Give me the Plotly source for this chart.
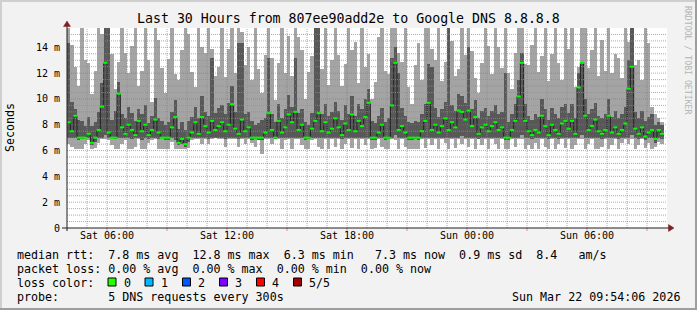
import numpy as np
import plotly.graph_objects as go

# ---------------- data (milliseconds, 10-minute steps starting Sat 04:00) ----------------
start_hour = 4.0
step_hours = 1.0 / 6.0

smoke_min = [
    6.5, 6.3, 6.1, 6.1, 6.1, 6.5, 6.8, 6.1, 6.2, 6.6,
    6.9, 6.9, 6.8, 6.4, 6.1, 6.1, 6.5, 6.8, 6.1, 6.1,
    6.3, 6.9, 6.1, 6.1, 6.6, 6.8, 6.9, 6.1, 6.1, 6.1,
    6.1, 6.7, 6.1, 6.1, 6.1, 6.1, 6.2, 6.8, 6.9, 6.9,
    6.5, 6.9, 6.5, 6.9, 7.0, 6.9, 6.9, 6.3, 6.9, 6.9,
    6.9, 6.3, 6.9, 6.5, 6.9, 6.6, 6.3, 6.8, 5.7, 6.9,
    6.9, 6.5, 6.9, 6.9, 6.1, 6.8, 6.9, 6.1, 6.9, 6.9,
    6.4, 6.1, 6.1, 6.8, 6.9, 6.3, 6.1, 6.9, 6.1, 6.9,
    6.3, 6.9, 6.1, 6.5, 6.9, 6.2, 6.9, 6.1, 6.9, 6.4,
    6.9, 6.1, 6.2, 6.9, 6.3, 6.1, 6.1, 6.9, 6.8, 6.1,
    6.9, 6.3, 6.1, 6.1, 6.1, 6.1, 6.9, 6.2, 6.9, 6.4,
    6.9, 6.1, 6.9, 6.6, 6.1, 6.9, 6.2, 6.9, 6.5, 6.9,
    6.3, 6.9, 6.1, 6.9, 6.4, 6.9, 6.1, 6.9, 6.5, 6.1,
    6.9, 6.1, 6.1, 6.9, 6.3, 6.9, 6.9, 6.1, 6.4, 6.1,
    6.6, 6.1, 6.9, 6.3, 6.1, 6.9, 6.1, 6.5, 6.9, 6.2,
    6.9, 6.1, 6.4, 6.9, 6.9, 6.1, 6.5, 6.9, 6.1, 6.1,
    6.3, 6.9, 6.1, 6.4, 6.9, 6.1, 6.6, 6.9, 6.5, 6.9,
    6.1, 6.4, 6.9, 6.2, 6.6, 6.1, 6.3, 6.7, 6.5,
]

smoke_max = [
    16, 14.2, 12.5, 11.0, 16, 13.0, 12.8, 10.4, 12.2, 16,
    15.0, 16, 16, 13.5, 10.8, 12.9, 16, 13.6, 12.0, 14.1,
    16, 11.0, 12.2, 16, 13.0, 9.8, 16, 14.6, 12.4, 10.5,
    13.1, 16, 11.9, 11.5, 13.8, 16, 15.0, 12.1, 10.9, 16,
    14.0, 13.6, 16, 13.9, 11.8, 12.5, 16, 11.7, 13.9, 16,
    12.0, 16, 15.2, 12.6, 14.0, 11.5, 16, 12.3, 10.5, 13.4,
    16, 13.2, 9.9, 12.8, 16, 12.0, 14.9, 11.8, 16, 14.8,
    13.8, 10.0, 12.1, 13.3, 16, 16, 12.3, 16, 11.1, 13.0,
    16, 13.4, 11.0, 12.7, 16, 13.8, 14.4, 11.2, 16, 12.5,
    13.5, 10.0, 11.3, 14.8, 16, 12.2, 11.9, 16, 16, 13.6,
    12.9, 16, 10.9, 9.6, 12.6, 14.3, 11.5, 16, 16, 13.9,
    13.0, 16, 11.4, 12.9, 16, 14.5, 11.8, 12.3, 16, 13.4,
    16, 13.7, 11.6, 10.5, 12.8, 16, 14.1, 11.9, 16, 14.0,
    12.4, 16, 12.0, 10.8, 13.6, 16, 16, 12.7, 12.6, 14.2,
    16, 12.1, 13.3, 16, 11.4, 13.5, 16, 12.8, 11.5, 16,
    13.9, 16, 10.9, 12.5, 16, 16, 12.4, 13.8, 16, 11.8,
    14.6, 12.2, 16, 12.0, 13.5, 13.2, 11.6, 16, 14.4, 16,
    12.6, 13.0, 11.5, 16, 14.3, 9.4, 8.8, 8.5, 8.2,
]

inner_low = [
    7.0, 7.0, 7.0, 6.8, 6.9, 7.0, 7.0, 6.4, 6.7, 7.0,
    7.0, 7.2, 7.0, 7.0, 6.9, 7.0, 7.0, 7.0, 7.0, 6.9,
    7.0, 7.0, 6.8, 7.0, 6.9, 7.0, 7.0, 6.9, 7.0, 6.8,
    6.8, 7.0, 6.8, 6.4, 6.5, 6.3, 6.7, 7.0, 7.0, 7.0,
    7.0, 7.0, 6.9, 7.0, 7.0, 7.0, 7.0, 6.9, 7.0, 7.0,
    7.0, 6.9, 7.0, 7.0, 7.0, 6.8, 6.9, 6.8, 6.8, 7.0,
    7.0, 7.0, 6.9, 7.0, 7.0, 7.0, 7.0, 7.0, 7.0, 7.0,
    7.0, 6.8, 6.9, 7.0, 7.0, 7.0, 7.0, 7.0, 7.0, 7.0,
    7.0, 7.0, 6.9, 7.0, 7.0, 7.0, 7.0, 7.0, 7.0, 7.0,
    7.0, 6.8, 6.8, 7.0, 7.0, 6.8, 6.9, 7.0, 7.2, 7.0,
    7.0, 7.0, 6.8, 6.8, 6.9, 6.8, 7.0, 7.0, 7.0, 7.0,
    7.0, 7.0, 7.0, 7.0, 7.0, 7.0, 7.0, 7.0, 7.1, 7.0,
    7.0, 7.0, 7.0, 6.9, 7.0, 7.0, 7.0, 7.0, 7.0, 7.0,
    7.0, 6.8, 6.8, 7.0, 7.0, 7.0, 7.2, 7.0, 7.0, 6.9,
    7.0, 7.0, 7.0, 7.0, 6.9, 7.0, 7.0, 6.9, 7.0, 7.0,
    7.0, 7.0, 7.0, 7.0, 7.2, 7.0, 7.0, 7.0, 7.0, 7.0,
    6.9, 7.0, 7.0, 7.0, 7.0, 6.9, 7.0, 7.0, 7.0, 7.2,
    7.0, 6.9, 7.0, 6.8, 7.0, 7.0, 6.6, 7.0, 6.9,
]

inner_high = [
    14.3, 9.8, 9.2, 8.4, 8.3, 7.9, 8.6, 7.9, 8.2, 9.0,
    11.2, 15.6, 15.6, 8.4, 9.1, 11.3, 8.8, 8.5, 9.4, 8.9,
    8.3, 9.2, 8.8, 9.5, 8.1, 8.7, 10.1, 8.5, 8.3, 8.0,
    8.2, 9.0, 9.9, 7.7, 8.2, 7.6, 8.3, 8.6, 9.4, 8.5,
    10.2, 9.0, 8.7, 13.2, 8.9, 9.3, 9.5, 8.8, 9.7, 11.0,
    9.0, 14.3, 14.3, 8.8, 9.0, 8.3, 8.0, 8.1, 8.4, 8.5,
    13.2, 8.8, 8.2, 9.6, 8.5, 9.2, 10.3, 9.4, 13.2, 8.9,
    9.2, 8.2, 8.0, 8.9, 15.6, 15.6, 8.8, 9.6, 8.7, 9.0,
    9.8, 9.1, 8.4, 9.5, 8.8, 10.2, 8.7, 9.6, 9.2, 10.0,
    10.8, 8.3, 8.1, 8.7, 9.3, 8.2, 8.5, 13.2, 14.0, 12.0,
    9.3, 8.7, 8.2, 8.1, 8.3, 8.2, 8.8, 9.6, 12.7, 12.5,
    9.3, 8.6, 9.2, 9.8, 15.6, 9.5, 9.1, 10.4, 10.2, 9.7,
    14.0, 9.2, 9.9, 8.5, 9.1, 9.3, 8.7, 9.1, 9.5, 8.8,
    9.0, 12.0, 8.2, 8.8, 9.6, 11.5, 13.6, 9.6, 8.7, 8.4,
    8.8, 8.6, 10.0, 9.2, 8.4, 9.3, 8.8, 8.5, 9.4, 9.6,
    8.9, 9.6, 8.5, 12.0, 12.9, 10.0, 8.8, 9.2, 9.7, 8.7,
    8.5, 8.8, 10.0, 8.6, 9.1, 8.5, 8.8, 9.4, 13.0, 15.6,
    9.0, 8.5, 9.1, 8.3, 8.6, 8.8, 8.0, 8.2, 8.0,
]

median = [
    8.2, 7.5, 8.7, 7.0, 7.0, 7.0, 7.3, 6.6, 7.0, 7.6,
    9.4, 12.8, 7.4, 7.0, 7.0, 10.4, 7.8, 7.3, 8.0, 7.6,
    7.2, 8.3, 7.5, 8.0, 7.2, 7.6, 8.4, 7.4, 7.0, 7.0,
    7.0, 7.8, 8.6, 6.6, 6.9, 6.5, 7.0, 7.4, 8.2, 7.3,
    8.6, 7.9, 7.4, 8.3, 7.6, 7.9, 8.2, 7.5, 8.0, 9.6,
    7.7, 7.3, 8.4, 7.5, 7.8, 7.0, 7.0, 7.0, 7.0, 7.4,
    8.9, 7.6, 7.0, 8.3, 7.4, 7.8, 8.8, 8.2, 9.0, 7.6,
    8.0, 7.0, 7.0, 7.7, 8.3, 8.9, 7.5, 8.2, 7.4, 7.7,
    8.5, 7.8, 7.2, 8.1, 7.6, 8.8, 7.5, 8.3, 7.9, 8.6,
    9.7, 7.0, 7.0, 7.4, 8.0, 7.0, 7.0, 9.5, 12.8, 7.6,
    7.9, 7.4, 7.0, 7.0, 7.0, 7.0, 7.5, 8.3, 9.7, 7.6,
    8.0, 7.4, 7.9, 8.5, 7.6, 8.2, 7.8, 9.1, 9.0, 8.4,
    9.1, 7.9, 8.6, 7.3, 7.8, 8.0, 7.5, 7.9, 8.2, 7.6,
    7.8, 7.0, 7.0, 7.6, 8.3, 10.2, 12.8, 8.3, 7.5, 7.2,
    7.6, 7.4, 8.7, 7.9, 7.2, 8.0, 7.6, 7.3, 8.1, 8.3,
    7.7, 8.3, 7.3, 10.9, 12.8, 8.7, 7.6, 7.9, 8.4, 7.5,
    7.3, 7.6, 8.7, 7.4, 7.8, 7.3, 7.6, 8.1, 10.8, 12.5,
    7.7, 7.3, 7.8, 7.1, 7.4, 7.6, 6.9, 7.6, 7.3,
]

x_tick_vals = [6, 12, 18, 24, 30]
x_tick_text = ["Sat 06:00", "Sat 12:00", "Sat 18:00", "Sun 00:00", "Sun 06:00"]
y_tick_vals = [0, 2, 4, 6, 8, 10, 12, 14]
y_tick_text = ["0", "2 m", "4 m", "6 m", "8 m", "10 m", "12 m", "14 m"]

title_text = "Last 30 Hours from 807ee90add2e to Google DNS 8.8.8.8"
legend_rtt = "median rtt:  7.8 ms avg  12.8 ms max  6.3 ms min   7.3 ms now  0.9 ms sd  8.4   am/s"
legend_loss = "packet loss: 0.00 % avg  0.00 % max  0.00 % min  0.00 % now"
legend_color_label = "loss color:"
loss_labels = ["0", "1", "2", "3", "4", "5/5"]
loss_colors = ["#26ff00", "#00b8ff", "#0059ff", "#7e00ff", "#ff0000", "#a10000"]
legend_probe = "probe:       5 DNS requests every 300s"
timestamp_text = "Sun Mar 22 09:54:06 2026"
watermark = "RRDTOOL / TOBI OETIKER"

# ---------------- geometry helpers ----------------
W, H = 697, 310
L, R, T, B = 67, 667, 28, 228   # plot area in pixels
X0, X1 = 4.0, 34.0
Y0, Y1 = 0.0, 15.5


def px(x):
    return (x - L) / (R - L)


def py(y):
    return (B - y) / (B - T)


n = len(median)
t_left = start_hour + np.arange(n) * step_hours
t_mid = t_left + step_hours / 2

smin = np.array(smoke_min)
smax = np.array(smoke_max)
ilo = np.array(inner_low)
ihi = np.array(inner_high)
med = np.array(median)

fig = go.Figure()
fig.add_trace(go.Bar(x=t_mid, y=smax - smin, base=smin, width=step_hours,
                     marker=dict(color="#a4a4a4", line=dict(width=0)),
                     hoverinfo="skip"))
fig.add_trace(go.Bar(x=t_mid, y=ihi - ilo, base=ilo, width=step_hours,
                     marker=dict(color="#585858", line=dict(width=0)),
                     hoverinfo="skip"))
fig.add_trace(go.Scatter(x=np.append(t_left, t_left[-1] + step_hours),
                         y=np.append(med, med[-1]), mode="lines",
                         line=dict(color="#202020", width=1, shape="hv"),
                         hoverinfo="skip"))
fig.add_trace(go.Scatter(x=t_mid, y=med, mode="markers",
                         marker=dict(symbol="line-ew", size=3, color="#00ff00",
                                     line=dict(color="#00ff00", width=2)),
                         hoverinfo="skip"))

mono = "DejaVu Sans Mono"
shapes = []
# grid above the data, rrdtool style
grid_c = "rgba(143,143,143,0.75)"
mgrid_c = "rgba(222,79,79,0.6)"
for k in range(1, 31):
    v = k * 0.5
    if abs(v % 2) < 1e-9:
        continue
    shapes.append(dict(type="line", xref="x domain", yref="y", x0=0, x1=1, y0=v, y1=v,
                       line=dict(color=grid_c, width=1, dash="1px,1px"), layer="above"))
for hr in range(5, 34):
    if hr % 3 == 0:
        continue
    shapes.append(dict(type="line", xref="x", yref="y domain", x0=hr, x1=hr, y0=0, y1=1,
                       line=dict(color=grid_c, width=1, dash="1px,1px"), layer="above"))
for v in y_tick_vals[1:]:
    shapes.append(dict(type="line", xref="x domain", yref="y", x0=0, x1=1, y0=v, y1=v,
                       line=dict(color=mgrid_c, width=1, dash="1px,1px"), layer="above"))
for hr in range(6, 34, 3):
    shapes.append(dict(type="line", xref="x", yref="y domain", x0=hr, x1=hr, y0=0, y1=1,
                       line=dict(color=mgrid_c, width=1, dash="1px,1px"), layer="above"))
    shapes.append(dict(type="line", xref="x", yref="paper", x0=hr, x1=hr, y0=py(228), y1=py(231),
                       line=dict(color=mgrid_c, width=1), layer="above"))

# axes lines and arrows
axis_c = "#1f1f1f"
shapes.append(dict(type="line", xref="paper", yref="paper", x0=px(62), x1=px(669), y0=py(228), y1=py(228),
                   line=dict(color=axis_c, width=1), layer="above"))
shapes.append(dict(type="line", xref="paper", yref="paper", x0=px(67), x1=px(67), y0=py(231), y1=py(26),
                   line=dict(color=axis_c, width=1), layer="above"))
arrow_c = "#801f1f"
shapes.append(dict(type="path", xref="paper", yref="paper",
                   path=f"M {px(67)} {py(21)} L {px(63.5)} {py(26.5)} L {px(70.5)} {py(26.5)} Z",
                   fillcolor=arrow_c, line=dict(color=arrow_c, width=0.5), layer="above"))
shapes.append(dict(type="path", xref="paper", yref="paper",
                   path=f"M {px(674)} {py(228)} L {px(668.5)} {py(224.5)} L {px(668.5)} {py(231.5)} Z",
                   fillcolor=arrow_c, line=dict(color=arrow_c, width=0.5), layer="above"))

# image border (bevel)
shapes.append(dict(type="rect", xref="paper", yref="paper", x0=px(0), x1=px(697), y0=py(0), y1=py(2),
                   fillcolor="#cfcfcf", line=dict(width=0), layer="above"))
shapes.append(dict(type="rect", xref="paper", yref="paper", x0=px(0), x1=px(2), y0=py(0), y1=py(310),
                   fillcolor="#cfcfcf", line=dict(width=0), layer="above"))
shapes.append(dict(type="rect", xref="paper", yref="paper", x0=px(0), x1=px(697), y0=py(308), y1=py(310),
                   fillcolor="#9e9e9e", line=dict(width=0), layer="above"))
shapes.append(dict(type="rect", xref="paper", yref="paper", x0=px(695), x1=px(697), y0=py(0), y1=py(310),
                   fillcolor="#9e9e9e", line=dict(width=0), layer="above"))

# loss colour boxes
box_x = [108, 145, 182.5, 219.5, 256.5, 293.5]
label_x = [123, 160, 197, 234, 271, 308]
for bx, c in zip(box_x, loss_colors):
    shapes.append(dict(type="rect", xref="paper", yref="paper", x0=px(bx), x1=px(bx + 8),
                       y0=py(278), y1=py(286), fillcolor=c, line=dict(color="#000000", width=1),
                       layer="above"))

ann = []
fs = 11.67


def text(x, y, s, size=fs, anchor="left", color="#000000", angle=0):
    ann.append(dict(xref="paper", yref="paper", x=px(x), y=py(y), text=s, showarrow=False,
                    xanchor=anchor, yanchor="middle", textangle=angle,
                    font=dict(family=mono, size=size, color=color), borderpad=0))


text(348, 18.5, title_text, size=13.25, anchor="center")
text(10, 128, "Seconds", size=11.67, anchor="center", angle=-90)
text(688, 60, watermark, size=8.2, anchor="center", color="#b4b4b4", angle=90)
text(16, 254.5, legend_rtt)
text(16, 268.5, legend_loss)
text(16, 282.5, legend_color_label)
for lx, lab in zip(label_x, loss_labels):
    text(lx, 282.5, lab)
text(16, 296.5, legend_probe)
text(681, 296.5, timestamp_text, anchor="right")

fig.update_layout(
    width=W, height=H,
    margin=dict(l=L, r=W - R, t=T, b=H - B, pad=0),
    paper_bgcolor="#f2f2f2", plot_bgcolor="#ffffff",
    showlegend=False, barmode="overlay", bargap=0,
    shapes=shapes, annotations=ann,
    xaxis=dict(range=[X0, X1], tickvals=x_tick_vals, ticktext=x_tick_text, showgrid=False,
               zeroline=False, showline=False, ticks="", fixedrange=True,
               tickfont=dict(family=mono, size=10, color="#000000")),
    yaxis=dict(range=[Y0, Y1], tickvals=y_tick_vals, ticktext=y_tick_text, showgrid=False,
               zeroline=False, showline=False, ticks="", fixedrange=True,
               ticklabelstandoff=6,
               tickfont=dict(family=mono, size=10, color="#000000")),
)

fig.write_html("out.html")
